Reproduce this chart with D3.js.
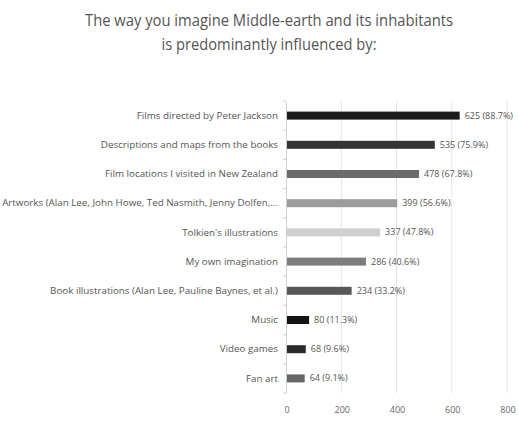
<!DOCTYPE html>
<html>
<head>
<meta charset="utf-8">
<script src="https://cdn.jsdelivr.net/npm/d3@7"></script>
<style>
  body { margin: 0; background: #fff; }
  text { font-family: "Open Sans", "Noto Sans", sans-serif; }
</style>
</head>
<body>
<div id="chart"></div>
<script>
// data
var categories = [
  "Films directed by Peter Jackson",
  "Descriptions and maps from the books",
  "Film locations I visited in New Zealand",
  "Artworks (Alan Lee, John Howe, Ted Nasmith, Jenny Dolfen,...",
  "Tolkien's illustrations",
  "My own imagination",
  "Book illustrations (Alan Lee, Pauline Baynes, et al.)",
  "Music",
  "Video games",
  "Fan art"
];
var counts = [625, 535, 478, 399, 337, 286, 234, 80, 68, 64];
var percents = ["88.7%", "75.9%", "67.8%", "56.6%", "47.8%", "40.6%", "33.2%", "11.3%", "9.6%", "9.1%"];
var barColors = ["#1b1b1b", "#333333", "#6b6b6b", "#9c9c9c", "#cfcfcf", "#7d7d7d", "#575757", "#141414", "#2a2a2a", "#666666"];
var xTicks = [0, 200, 400, 600, 800];
var titleLines = ["The way you imagine Middle-earth and its inhabitants", "is predominantly influenced by:"];
var titleWidths = [368, 215];

var width = 519, height = 422;
var svg = d3.select("#chart").append("svg")
  .attr("width", width)
  .attr("height", height);

// title (condensed face in the original, so squeeze it)
svg.selectAll(".title")
  .data(titleLines)
  .enter().append("text")
  .attr("class", "title")
  .attr("x", 269)
  .attr("y", (d, i) => 26 + i * 24)
  .attr("text-anchor", "middle")
  .attr("textLength", (d, i) => titleWidths[i])
  .attr("lengthAdjust", "spacingAndGlyphs")
  .style("font-size", "17px")
  .style("fill", "#555")
  .text(d => d);

var x = d3.scaleLinear().domain([0, 800]).range([286, 507]);
var y = d3.scaleBand().domain(categories).range([101, 393]).paddingInner(0);

// gridlines
svg.selectAll(".grid")
  .data(xTicks.slice(1))
  .enter().append("line")
  .attr("x1", d => x(d)).attr("x2", d => x(d))
  .attr("y1", 101).attr("y2", 393)
  .style("stroke", "#e4e4e4")
  .style("stroke-width", 1);

// x tick labels
svg.selectAll(".xt")
  .data(xTicks)
  .enter().append("text")
  .attr("x", d => x(d) + 1)
  .attr("y", 413)
  .attr("text-anchor", "middle")
  .style("font-size", "9px")
  .style("fill", "#666")
  .text(d => d);

// category axis with small ticks between rows
var yAxis = d3.axisLeft(y).tickSize(0).tickPadding(8);
var ag = svg.append("g")
  .attr("transform", `translate(${x(0)},0)`)
  .call(yAxis);
ag.select(".domain").style("stroke", "#d0d0d0");
ag.selectAll("text")
  .style("font-size", "9.8px")
  .style("fill", "#555")
  .style("font-family", '"Open Sans", sans-serif');

svg.selectAll(".sep")
  .data(d3.range(categories.length + 1))
  .enter().append("line")
  .attr("x1", x(0) - 3).attr("x2", x(0))
  .attr("y1", i => 101 + i * y.step()).attr("y2", i => 101 + i * y.step())
  .style("stroke", "#d0d0d0");

// bars
var barH = 8;
svg.selectAll(".bar")
  .data(counts)
  .enter().append("rect")
  .attr("x", x(0) + 1)
  .attr("y", (d, i) => y(categories[i]) + y.bandwidth() / 2 - barH / 2)
  .attr("width", d => x(d) - x(0))
  .attr("height", barH)
  .style("fill", (d, i) => barColors[i]);

// value labels
svg.selectAll(".val")
  .data(counts)
  .enter().append("text")
  .attr("x", d => x(d) + 6)
  .attr("y", (d, i) => y(categories[i]) + y.bandwidth() / 2 + 3)
  .style("font-size", "9px")
  .style("fill", "#555")
  .text((d, i) => d + " (" + percents[i] + ")");
</script>
</body>
</html>
